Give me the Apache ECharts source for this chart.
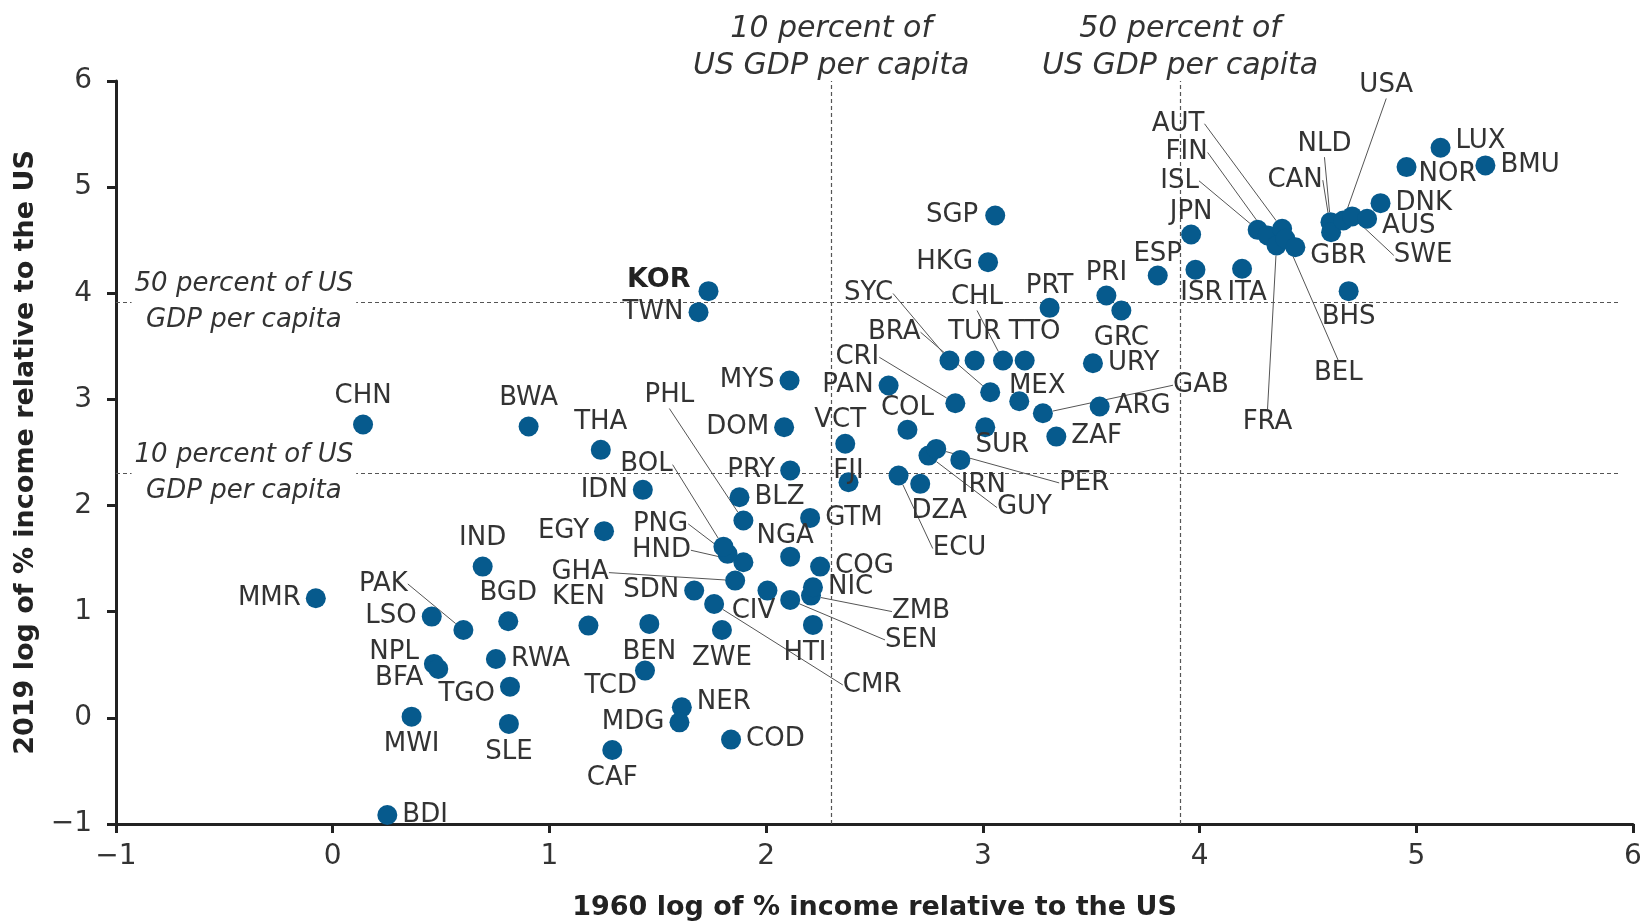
<!DOCTYPE html>
<html>
<head>
<meta charset="utf-8">
<title>1960 vs 2019 income relative to the US</title>
<script src="https://cdn.jsdelivr.net/npm/echarts@6/dist/echarts.min.js"></script>
<style>
  html, body { margin: 0; padding: 0; background: #fff; }
  #chart { width: 1641px; height: 921px; }
</style>
</head>
<body>
<div id="chart"></div>
<script>
// country codes and the two log values
const codes = [
  'BDI', 'MWI', 'SLE', 'TGO', 'NPL', 'BFA', 'RWA', 'LSO', 'PAK', 'BGD',
  'IND', 'MMR', 'CHN', 'BWA', 'THA', 'IDN', 'EGY', 'KEN', 'BEN', 'TCD',
  'NER', 'MDG', 'CAF', 'COD', 'SDN', 'CMR', 'ZWE', 'CIV', 'SEN', 'ZMB',
  'NIC', 'HTI', 'COG', 'NGA', 'GHA', 'HND', 'PNG', 'BOL', 'PHL', 'BLZ',
  'PRY', 'GTM', 'MYS', 'DOM', 'VCT', 'FJI', 'PAN', 'CRI', 'COL', 'BRA',
  'SUR', 'MEX', 'GAB', 'ZAF', 'ARG', 'URY', 'GRC', 'PRI', 'PRT', 'SYC',
  'TUR', 'CHL', 'TTO', 'SGP', 'HKG', 'ECU', 'DZA', 'IRN', 'GUY', 'PER',
  'KOR', 'TWN', 'ESP', 'JPN', 'ISR', 'ITA', 'ISL', 'FIN', 'AUT', 'FRA',
  'BEL', 'GBR', 'NLD', 'CAN', 'USA', 'SWE', 'AUS', 'DNK', 'NOR', 'LUX',
  'BMU', 'BHS'
];
const x1960 = [
  0.252, 0.364, 0.813, 0.818, 0.467, 0.487, 0.753, 0.457, 0.603, 0.810,
  0.692, -0.078, 0.140, 0.904, 1.237, 1.431, 1.252, 1.180, 1.461, 1.441,
  1.611, 1.600, 1.290, 1.838, 1.668, 1.760, 1.796, 2.006, 2.111, 2.207,
  2.216, 2.216, 2.249, 2.111, 1.857, 1.895, 1.822, 1.803, 1.895, 1.877,
  2.111, 2.203, 2.108, 2.083, 2.365, 2.380, 2.565, 2.873, 2.652, 3.034,
  3.011, 3.168, 3.277, 3.339, 3.539, 3.508, 3.639, 3.570, 3.308, 2.846,
  2.962, 3.093, 3.193, 3.057, 3.024, 2.611, 2.711, 2.896, 2.749, 2.785,
  1.734, 1.688, 3.807, 3.961, 3.981, 4.196, 4.268, 4.314, 4.381, 4.355,
  4.396, 4.442, 4.604, 4.607, 4.663, 4.704, 4.773, 4.835, 4.955, 5.112,
  5.319, 4.688
];
const y2019 = [
  -0.915, 0.011, -0.057, 0.294, 0.508, 0.461, 0.555, 0.954, 0.828, 0.910,
  1.425, 1.127, 2.764, 2.745, 2.525, 2.148, 1.759, 0.869, 0.885, 0.445,
  0.099, -0.042, -0.303, -0.205, 1.199, 1.073, 0.828, 1.199, 1.111, 1.152,
  1.230, 0.876, 1.425, 1.519, 1.293, 1.466, 1.545, 1.613, 1.859, 2.078,
  2.330, 1.884, 3.178, 2.738, 2.582, 2.220, 3.131, 2.964, 2.714, 3.068,
  2.738, 2.983, 2.870, 2.650, 2.933, 3.341, 3.838, 3.979, 3.863, 3.367,
  3.367, 3.367, 3.367, 4.733, 4.293, 2.283, 2.205, 2.430, 2.471, 2.534,
  4.020, 3.822, 4.168, 4.554, 4.222, 4.231, 4.598, 4.545, 4.608, 4.450,
  4.514, 4.434, 4.670, 4.576, 4.686, 4.724, 4.702, 4.849, 5.189, 5.371,
  5.205, 4.020
];
// 10 and 50 percent of US GDP per capita, in log %
const refLines = [2.303, 3.912];

// where each plain label sits: [side, offsetX, offsetY]
const labelAt = {
  BDI: ['right'], RWA: ['right'], NER: ['right', 0, -5], COD: ['right'], BLZ: ['right'],
  GTM: ['right'], COG: ['right'], NIC: ['right'], ZAF: ['right'], ARG: ['right'],
  URY: ['right'], BMU: ['right'], LUX: ['right', 0, -7], DNK: ['right'], AUS: ['right', 0, 7],
  NOR: ['right', -3, 7], GBR: ['right', 0, 9],
  LSO: ['left'], NPL: ['left', 0, -12], BFA: ['left', 0, 9], TGO: ['left', 0, 8], MMR: ['left'],
  IDN: ['left'], EGY: ['left'], MDG: ['left'], SDN: ['left'], PRY: ['left'], DOM: ['left'],
  MYS: ['left'], KOR: ['left', -3, -11], TWN: ['left'], PAN: ['left'], SGP: ['left', -2, 0],
  HKG: ['left'], TCD: ['left', 7, 16],
  IND: ['top'], BGD: ['top'], KEN: ['top', -10, 0], CHN: ['top'], BWA: ['top'], THA: ['top'],
  NGA: ['top', -5, 8], VCT: ['top', -5, 4], FJI: ['top', 0, 17], COL: ['top', 0, 6],
  TUR: ['top'], TTO: ['top', 10, 0], MEX: ['top', 18, 13], PRI: ['top', 0, 6],
  PRT: ['top', 0, 6], JPN: ['top', 0, 6], ESP: ['top', 0, 7],
  MWI: ['bottom'], SLE: ['bottom'], CAF: ['bottom'], BEN: ['bottom'], ZWE: ['bottom'],
  HTI: ['bottom', -8, 0], CIV: ['bottom', -14, -7], SUR: ['bottom', 17, -10], GRC: ['bottom'],
  DZA: ['bottom', 19, -1], IRN: ['bottom', 23, -3], ISR: ['bottom', 6, -4],
  ITA: ['bottom', 5, -4], BHS: ['bottom', 0, -2]
};
// labels moved away with a leader line: [dx, dy] from dot centre to label centre
const leaders = {
  PAK: [-80, -46], GHA: [-155, -8], HND: [-82, -12], PNG: [-67, -30], BOL: [-77, -82],
  PHL: [-74, -125], ZMB: [110, 16], SEN: [121, 40], CMR: [158, 81], CRI: [-98, -46],
  BRA: [-96, -60], SYC: [-81, -67], CHL: [-26, -63], GAB: [158, -28], ECU: [61, 73],
  GUY: [96, 52], PER: [148, 34], AUT: [-104, -105], FIN: [-81, -83], ISL: [-78, -49],
  FRA: [-9, 177], BEL: [53, 135], CAN: [-36, -52], NLD: [-6, -78], USA: [43, -135],
  SWE: [71, 39]
};

const sans = 'DejaVu Sans';
const gap = 5;

const points = codes.map(function (c, i) {
  const item = { name: c, value: [x1960[i], y2019[i]] };
  if (leaders[c]) item.labelLine = { show: true };
  if (c === 'KOR') item.label = { fontWeight: 'bold', fontSize: 27, color: '#222' };
  return item;
});

// place every label from the dot's own rect
function placeLabel(p) {
  const c = codes[p.dataIndex];
  const r = p.rect;
  const cx = r.x + r.width / 2;
  const cy = r.y + r.height / 2;
  const d = leaders[c];
  if (d) {
    return { x: cx + d[0], y: cy + d[1], align: 'center', verticalAlign: 'middle' };
  }
  const s = labelAt[c];
  const ox = s[1] || 0;
  const oy = s[2] || 0;
  switch (s[0]) {
    case 'right':
      return { x: r.x + r.width + gap + ox, y: cy + oy, align: 'left', verticalAlign: 'middle' };
    case 'left':
      return { x: r.x - gap + ox, y: cy + oy, align: 'right', verticalAlign: 'middle' };
    case 'top':
      return { x: cx + ox, y: r.y - gap + oy, align: 'center', verticalAlign: 'bottom' };
    default:
      return { x: cx + ox, y: r.y + r.height + gap + oy, align: 'center', verticalAlign: 'top' };
  }
}

const minus = v => String(v).replace('-', '\u2212');

const chart = echarts.init(document.getElementById('chart'));
const option = {
  animation: false,
  backgroundColor: '#fff',
  grid: { left: 116, right: 8, top: 81, bottom: 97, outerBoundsMode: 'none' },
  xAxis: {
    type: 'value', min: -1, max: 6, interval: 1,
    name: '1960 log of % income relative to the US',
    nameLocation: 'middle', nameGap: 70,
    nameTextStyle: { fontFamily: sans, fontSize: 27, fontWeight: 'bold', color: '#222' },
    axisLine: { onZero: false, lineStyle: { color: '#222', width: 3 } },
    axisTick: { length: 9, lineStyle: { color: '#222', width: 3 } },
    axisLabel: { fontFamily: sans, fontSize: 28, color: '#333', margin: 19, formatter: minus },
    splitLine: { show: false }
  },
  yAxis: {
    type: 'value', min: -1, max: 6, interval: 1,
    name: '2019 log of % income relative to the US',
    nameLocation: 'middle', nameGap: 73,
    nameTextStyle: { fontFamily: sans, fontSize: 27, fontWeight: 'bold', color: '#222' },
    axisLine: { onZero: false, lineStyle: { color: '#222', width: 3 } },
    axisTick: { length: 9, lineStyle: { color: '#222', width: 3 } },
    axisLabel: { fontFamily: sans, fontSize: 28, color: '#333', margin: 24, formatter: minus },
    splitLine: { show: false }
  },
  series: [{
    type: 'scatter',
    clip: false,
    symbol: 'circle',
    symbolSize: 20,
    itemStyle: { color: '#065a8d', opacity: 1 },
    emphasis: { disabled: true },
    label: {
      show: true, formatter: '{b}',
      fontFamily: sans, fontSize: 26, color: '#333'
    },
    labelLine: { show: false, lineStyle: { color: '#555', width: 1 } },
    labelLayout: placeLabel,
    data: points,
    markLine: {
      silent: true, symbol: 'none', z: 1, animation: false,
      lineStyle: { color: '#555', type: [4, 3], width: 1.2 },
      label: {
        show: false, position: 'end', distance: -4,
        fontFamily: sans, fontStyle: 'italic', fontSize: 30, lineHeight: 37, color: '#333'
      },
      data: [
        { xAxis: refLines[0], label: { show: true, formatter: '10 percent of\nUS GDP per capita' } },
        { xAxis: refLines[1], label: { show: true, formatter: '50 percent of\nUS GDP per capita' } },
        [{ coord: [-1, refLines[0]] }, { coord: [5.94, refLines[0]] }],
        [{ coord: [-1, refLines[1]] }, { coord: [5.94, refLines[1]] }]
      ]
    },
    markPoint: {
      silent: true, z: 4, symbol: 'rect', symbolSize: 1, animation: false,
      itemStyle: { color: 'rgba(0,0,0,0)' },
      label: {
        show: true, position: 'inside', backgroundColor: '#fff', padding: [0, 3],
        fontFamily: sans, fontStyle: 'italic', fontSize: 26, lineHeight: 36, color: '#333'
      },
      data: [
        { coord: [-0.41, refLines[1]], label: { formatter: '50 percent of US\nGDP per capita' } },
        { coord: [-0.41, refLines[0]], label: { formatter: '10 percent of US\nGDP per capita' } }
      ]
    }
  }]
};
chart.setOption(option);
</script>
</body>
</html>
